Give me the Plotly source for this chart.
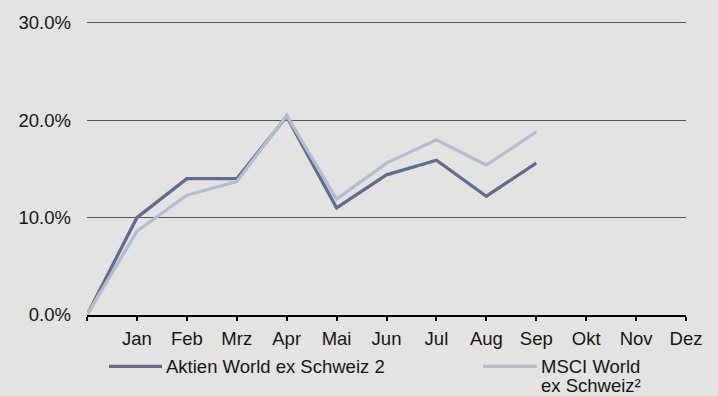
import plotly.graph_objects as go

# Month positions: 0 = start of year, 1..12 = Jan..Dez
positions = list(range(13))
month_labels = ["", "Jan", "Feb", "Mrz", "Apr", "Mai", "Jun", "Jul", "Aug", "Sep", "Okt", "Nov", "Dez"]

# Cumulative performance in percent (year to date)
fund_name = "Aktien World ex Schweiz 2"
fund_values = [0.0, 10.0, 14.0, 14.0, 20.4, 11.0, 14.4, 15.9, 12.2, 15.6]

index_name = "MSCI World<br>ex Schweiz²"
index_values = [0.0, 8.6, 12.3, 13.7, 20.5, 11.9, 15.6, 18.0, 15.4, 18.8]

y_ticks = [0, 10, 20, 30]
y_tick_labels = [f"{v:.1f}%" for v in y_ticks]

fund_color = "#5f6e90"
index_color = "#b4bdd0"
bg_color = "#e3e3e1"
text_color = "#151515"
font_family = "Liberation Sans, Arial, Helvetica, sans-serif"
font_size = 18.5

W, H = 718, 396
PL, PR, PB = 87, 686, 315      # plot area edges in pixels
Y_TOP = 30.2                    # small headroom so the 30% gridline is drawn
PT = PB - (PB - 17) * Y_TOP / 30.0


def px_x(x):
    return (x - PL) / (PR - PL)


def px_y(y):
    return (PB - y) / (PB - PT)


fig = go.Figure()
fig.add_trace(go.Scatter(
    x=positions[:len(fund_values)], y=fund_values, mode="lines",
    name=fund_name, line=dict(color=fund_color, width=3.3),
))
fig.add_trace(go.Scatter(
    x=positions[:len(index_values)], y=index_values, mode="lines",
    name=index_name, line=dict(color=index_color, width=3.3),
))

# Legend drawn below the axis: sample line + label for each series
legend_entries = [
    (fund_name, fund_color, 109, 162),
    (index_name, index_color, 483, 537),
]
legend_y = 367.5
line_step = 19.5
for name, color, x0, x1 in legend_entries:
    fig.add_shape(
        type="line", xref="paper", yref="paper",
        x0=px_x(x0), x1=px_x(x1), y0=px_y(legend_y), y1=px_y(legend_y),
        line=dict(color=color, width=3.3),
    )
    for i, part in enumerate(name.split("<br>")):
        fig.add_annotation(
            xref="paper", yref="paper",
            x=px_x(x1 + 3), y=px_y(legend_y + i * line_step),
            text=part, showarrow=False, xanchor="left", yanchor="middle",
            align="left", borderpad=0,
            font=dict(size=font_size, color=text_color, family=font_family),
        )

fig.update_layout(
    width=W, height=H,
    margin=dict(l=PL, r=W - PR, t=PT, b=H - PB),
    paper_bgcolor=bg_color, plot_bgcolor=bg_color,
    showlegend=False,
    font=dict(family=font_family, size=font_size, color=text_color),
)
fig.update_xaxes(
    range=[0, 12], tickvals=positions, ticktext=month_labels,
    showgrid=False, zeroline=False,
    showline=True, linecolor="#000000", linewidth=2,
    ticks="outside", ticklen=4, tickwidth=2, tickcolor="#000000",
    ticklabelstandoff=2,
)
fig.update_yaxes(
    range=[0, Y_TOP], tickvals=y_ticks, ticktext=y_tick_labels,
    showgrid=True, gridcolor="#555555", gridwidth=1,
    zeroline=False, showline=False, ticks="",
    ticklabelstandoff=15,
)

fig.write_html("out.html")
